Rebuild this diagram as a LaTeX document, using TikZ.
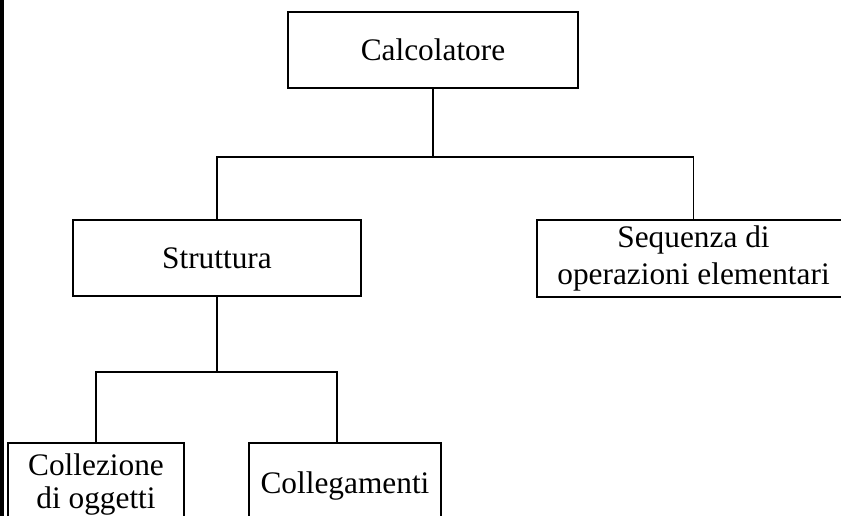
\documentclass[tikz,border=0pt]{standalone}
\usepackage{fontspec}
\setmainfont{Liberation Serif}
\usetikzlibrary{calc}
\tikzset{
  box/.style={draw=black, line width=1.4pt, fill=white, align=center, inner sep=0pt,
    font=\fontsize{23.5}{27}\selectfont},
  link/.style={draw=black, line width=1.4pt},
}
\begin{document}
\begin{tikzpicture}[x=0.75pt,y=-0.75pt]
\useasboundingbox (0,0) rectangle (841,516);
\clip (0,0) rectangle (841,516);
\fill[white] (0,0) rectangle (841,516);
% nodes
\node[box, minimum width=217.5pt, minimum height=57pt] (calc) at (433,50) {Calcolatore};
\node[box, minimum width=216pt, minimum height=57pt] (strut) at (217,258) {Struttura};
\node[box, minimum width=234.75pt, minimum height=57.75pt, font=\fontsize{23.5}{28}\selectfont] (seq) at (693.5,258.5) {Sequenza di\\operazioni elementari};
\node[box, minimum width=132pt, minimum height=62pt, font=\fontsize{23.5}{25}\selectfont] (coll) at (96,484.5) {Collezione\\di oggetti};
\node[box, minimum width=144pt, minimum height=64pt] (colleg) at (345,486) {Collegamenti};
% junctions
\coordinate (j1) at (433,157);
\coordinate (j2) at (217,372);
\coordinate (cin) at ($(colleg.north)+(-8,0)$);
% connectors
\draw[link] (calc.south) -- (j1);
\draw[link] (strut.north) |- (j1 -| strut.north) -- (j1 -| seq.north) -- (seq.north);
\draw[link] (strut.south) -- (j2);
\draw[link] (coll.north) -- (j2 -| coll.north) -- (j2 -| cin) -- (cin);
% left border
\draw[line width=3pt] (1.75,0) -- (1.75,516);
\end{tikzpicture}
\end{document}
